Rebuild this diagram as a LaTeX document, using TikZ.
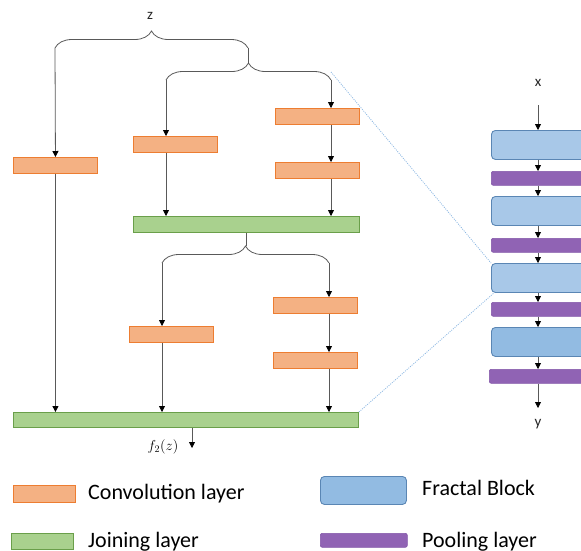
\documentclass[tikz,border=0pt]{standalone}
\usepackage{fontspec}
\setmainfont{Carlito}
\usetikzlibrary{arrows.meta}
\usetikzlibrary{decorations.pathreplacing}
\definecolor{convfill}{HTML}{F4B183}
\definecolor{convline}{HTML}{ED7D31}
\definecolor{joinfill}{HTML}{A9D18E}
\definecolor{joinline}{HTML}{6A9F4A}
\definecolor{fbfill}{HTML}{A8C8E8}
\definecolor{fbdark}{HTML}{92BBE2}
\definecolor{fbline}{HTML}{5A86B4}
\definecolor{poolfill}{HTML}{9063B4}
\definecolor{poolline}{HTML}{8256A8}
\definecolor{wirecol}{HTML}{595959}
\definecolor{zoomcol}{HTML}{8DB8E2}
\tikzset{
  conv/.style={draw=convline, fill=convfill, line width=0.9pt, inner sep=0pt,
    minimum width=84pt, minimum height=16pt, anchor=north west},
  joinbox/.style={draw=joinline, fill=joinfill, line width=0.9pt, inner sep=0pt,
    minimum height=16pt, anchor=north west},
  fractal/.style={draw=fbline, fill=fbfill, line width=0.9pt, inner sep=0pt,
    rounded corners=4pt, minimum width=110pt, minimum height=29pt, anchor=north west},
  pool/.style={draw=poolline, fill=poolfill, line width=0.6pt, inner sep=0pt,
    rounded corners=2pt, minimum width=110pt, minimum height=14pt, anchor=north west},
  wire/.style={draw=wirecol, line width=0.8pt},
  arr/.style={wire, -{Triangle[length=6pt,width=6pt,black]}},
  bracket/.style={wire, decorate, decoration={brace, amplitude=17pt}},
  zoomline/.style={draw=zoomcol, dash pattern=on 1pt off 1.2pt, line width=0.8pt},
  lbl/.style={font=\fontsize{15}{17}\selectfont, text=black!85},
  legend/.style={font=\fontsize{22}{25}\selectfont, anchor=base west, inner sep=0pt}
}

\begin{document}
\begin{tikzpicture}[x=1pt,y=-1pt]
  \clip (0,0) rectangle (581,550);
  % the fractal expansion
  \node[lbl] (zin) at (150,16) {z};
  \coordinate (zl) at (55,48);
  \coordinate (zr) at (248,48);
  \coordinate (bl) at (166,80);
  \coordinate (br) at (331,80);
  \coordinate (btip) at (248,63);
  \coordinate (cl) at (162,263);
  \coordinate (cr) at (329,263);
  \coordinate (ctip) at (246,246);
  \coordinate (fout) at (192,448);

  \node[conv] (convA) at (13,157) {};
  \node[conv] (convB) at (133,136) {};
  \node[conv] (convC) at (275,108) {};
  \node[conv] (convD) at (275,162) {};
  \node[joinbox, minimum width=226pt] (joinA) at (133,216) {};
  \node[conv] (convE) at (129,326) {};
  \node[conv] (convF) at (273,297) {};
  \node[conv] (convG) at (273,352) {};
  \node[joinbox, minimum width=345pt, minimum height=15pt] (joinB) at (13,412) {};

  \draw[bracket] (zl) -- (zr);
  \draw[wire] (zr) -- (btip);
  \draw[bracket] (bl) -- (br);
  \draw[wire] (joinA.south -| ctip) -- (ctip);
  \draw[bracket] (cl) -- (cr);

  \draw[arr] (zl) -- (convA.north);
  \draw[arr] (convA.south) -- (convA.south |- joinB.north);
  \draw[arr] (bl) -- (bl |- convB.north);
  \draw[arr] (convB.south -| bl) -- (bl |- joinA.north);
  \draw[arr] (br) -- (br |- convC.north);
  \draw[arr] (convC.south -| br) -- (br |- convD.north);
  \draw[arr] (convD.south -| br) -- (br |- joinA.north);
  \draw[arr] (cl) -- (cl |- convE.north);
  \draw[arr] (convE.south -| cl) -- (cl |- joinB.north);
  \draw[arr] (cr) -- (cr |- convF.north);
  \draw[arr] (convF.south -| cr) -- (cr |- convG.north);
  \draw[arr] (convG.south -| cr) -- (cr |- joinB.north);
  \draw[arr] (joinB.south -| fout) -- (fout);
  \node[font=\fontsize{14}{16}\selectfont] (fz) at (163,447) {$f_2(z)$};

  % the whole network
  \node[lbl] (xin) at (538,83) {x};
  \coordinate (xs) at (538,105);
  \coordinate (ye) at (538,408);
  \node[fractal] (fbA) at (491,130) {};
  \node[pool] (plA) at (491,171) {};
  \node[fractal] (fbB) at (491,196) {};
  \node[pool] (plB) at (491,238) {};
  \node[fractal] (fbC) at (491,263) {};
  \node[pool] (plC) at (491,302) {};
  \node[fractal, fill=fbdark] (fbD) at (491,327) {};
  \node[pool] (plD) at (489,369) {};
  \node[lbl] (yout) at (538,424) {y};

  \draw[arr] (xs) -- (xs |- fbA.north);
  \foreach \a/\b in {fbA/plA, plA/fbB, fbB/plB, plB/fbC, fbC/plC, plC/fbD, fbD/plD}
    \draw[arr] (xs |- \a.south) -- (xs |- \b.north);
  \draw[arr] (xs |- plD.south) -- (ye);

  \draw[zoomline] (331,72) -- (fbC.north west);
  \draw[zoomline] (joinB.north east) -- ([xshift=3pt]fbC.south west);

  % legend
  \node[conv, minimum width=62pt, minimum height=17pt] (legC) at (13,485) {};
  \node[legend] (legCt) at (88,499) {Convolution layer};
  \node[joinbox, minimum width=62pt] (legJ) at (11,533) {};
  \node[legend] (legJt) at (88,547) {Joining layer};
  \node[fractal, fill=fbdark, minimum width=86pt, minimum height=28pt] (legF) at (320,476) {};
  \node[legend] (legFt) at (422,495) {Fractal Block};
  \node[pool, minimum width=87pt] (legP) at (320,533) {};
  \node[legend] (legPt) at (422,547) {Pooling layer};
\end{tikzpicture}
\end{document}
